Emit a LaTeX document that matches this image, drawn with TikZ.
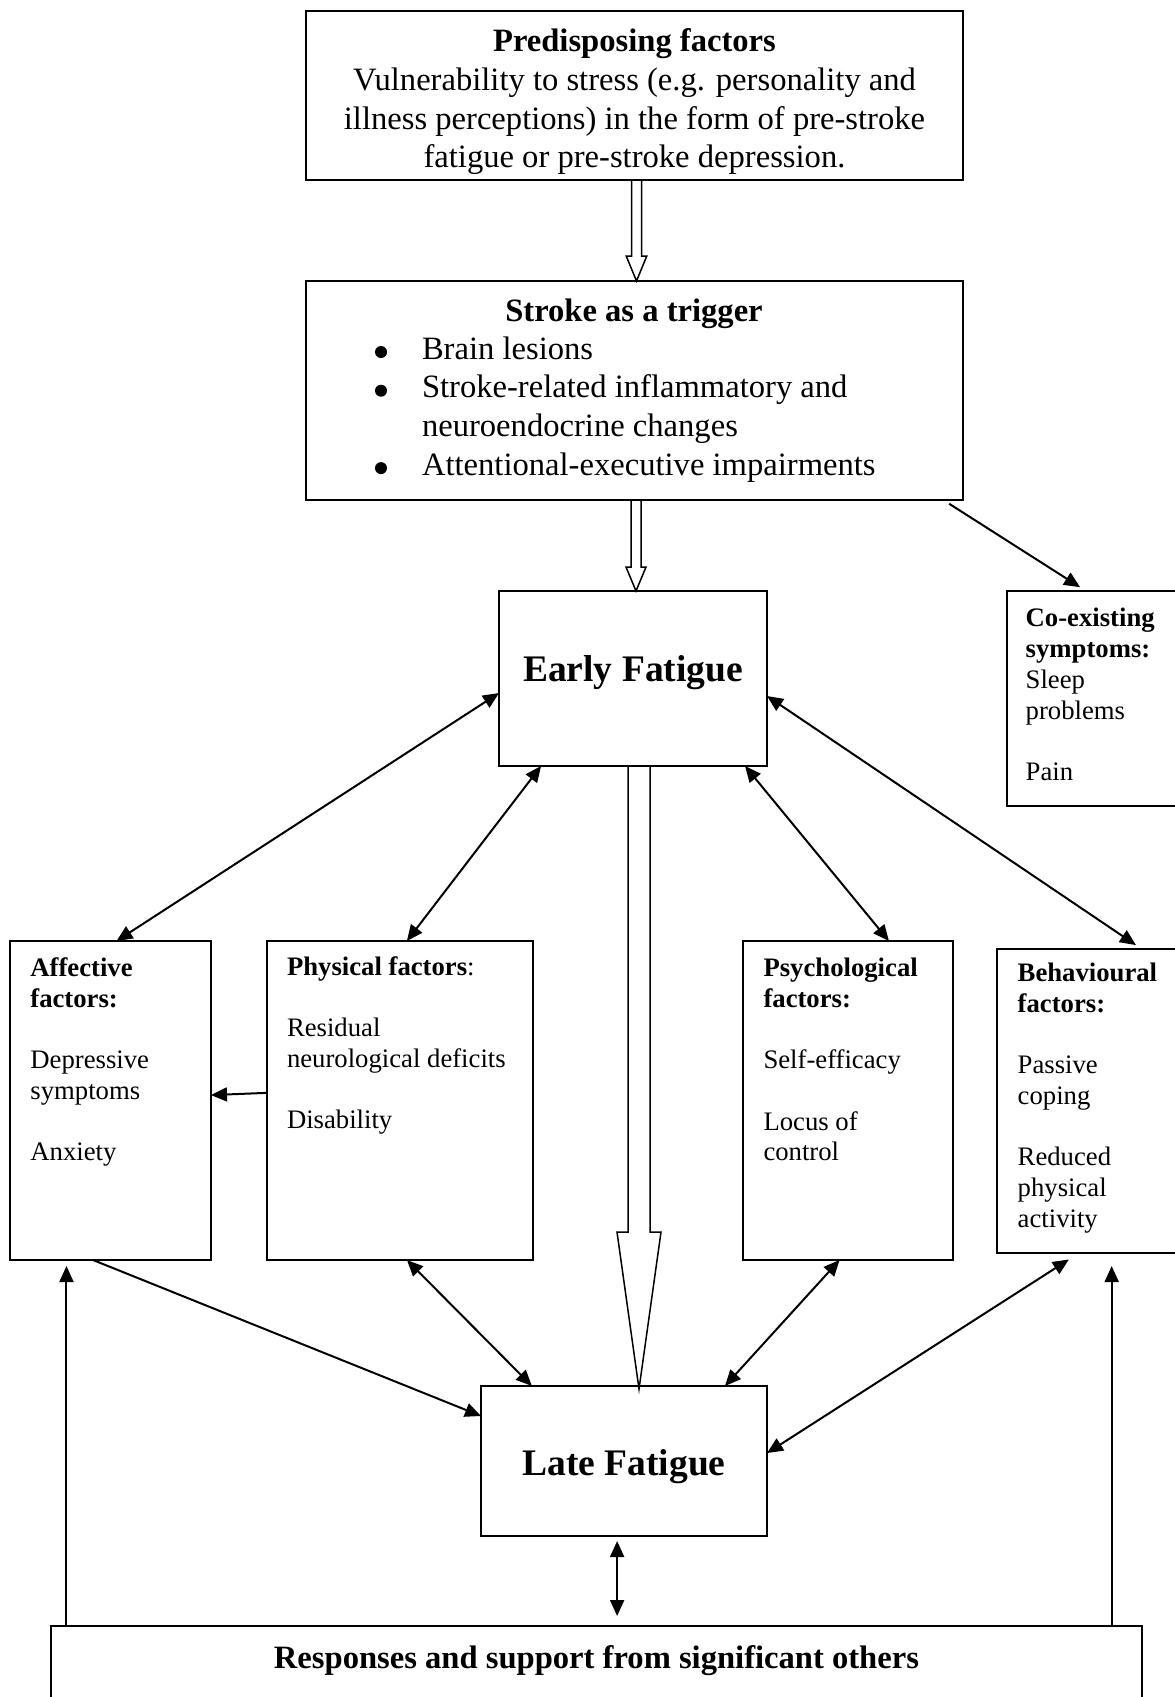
\documentclass[tikz,border=0pt]{standalone}
\usepackage{fontspec}
\setmainfont{Liberation Serif}
\usetikzlibrary{arrows.meta,calc}
\newcommand\FntA{\fontsize{32.6}{38.7}\selectfont}
\newcommand\FntB{\fontsize{26.7}{30.7}\selectfont}
\newcommand\FntC{\fontsize{37.5}{43}\selectfont}
\begin{document}
\begin{tikzpicture}[x=1pt,y=-1pt,
  >={Triangle[length=16pt,width=14pt]},
  box/.style={draw, line width=2pt, inner sep=0pt, outer sep=0pt, anchor=north west},
  txt/.style={inner sep=0pt, outer sep=0pt, anchor=north west, align=left, font=\FntB},
  con/.style={line width=2pt},
  hollow/.style={draw, line width=1.5pt, line join=miter},
  bul/.style={fill=black}]
\useasboundingbox (0,0) rectangle (1175,1697);
\clip (0,0) rectangle (1175,1697);

% boxes
\node[box, minimum width=657pt, minimum height=169pt] (pre) at (306,11) {};
\node[box, minimum width=657pt, minimum height=219pt] (stroke) at (306,281) {};
\node[box, minimum width=268pt, minimum height=175pt] (early) at (499,591) {};
\node[box, minimum width=178pt, minimum height=215pt] (coex) at (1007,591) {};
\node[box, minimum width=201pt, minimum height=319pt] (aff) at (10,941) {};
\node[box, minimum width=266pt, minimum height=319pt] (phys) at (267,941) {};
\node[box, minimum width=210pt, minimum height=319pt] (psy) at (743,941) {};
\node[box, minimum width=188pt, minimum height=304pt] (beh) at (997,949) {};
\node[box, minimum width=286pt, minimum height=150pt] (late) at (481,1386) {};
\node[box, minimum width=1091pt, minimum height=110pt] (resp) at (51,1626) {};

% texts
\node[inner sep=0pt, anchor=north, align=center, font=\FntA] (pretext) at (634.5,24.5)
  {\strut\textbf{Predisposing factors}\\
   Vulnerability to stress (e.g. personality and\\
   illness perceptions) in the form of pre-stroke\\
   fatigue or pre-stroke depression.};
\node[inner sep=0pt, anchor=base, font=\FntA] (sttitle) at (634,321.5) {\textbf{Stroke as a trigger}};
\node[txt, font=\FntA] (stlist) at (422,332.2)
  {\strut Brain lesions\\
   Stroke-related inflammatory and\\
   neuroendocrine changes\\
   Attentional-executive impairments};
% bullets
\fill[bul] (381,352) circle [radius=6pt];
\fill[bul] (381,390.7) circle [radius=6pt];
\fill[bul] (381,468.1) circle [radius=6pt];

\node[inner sep=0pt, anchor=base, font=\FntC] (eftext) at (633,681) {\textbf{Early Fatigue}};
\node[inner sep=0pt, anchor=base, font=\FntC] (lftext) at (624,1475.5) {\textbf{Late Fatigue}};
\node[txt] (coextext) at (1025.7,605.5)
  {\strut\textbf{Co-existing}\\ \textbf{symptoms:}\\ Sleep\\ problems\\ \strut\\ Pain};
\node[txt] (afftext) at (30.4,955.2)
  {\strut\textbf{Affective}\\ \textbf{factors:}\\ \strut\\ Depressive\\ symptoms\\ \strut\\ Anxiety};
\node[txt] (phystext) at (287,953.5)
  {\strut\textbf{Physical factors}:\\ \strut\\ Residual\\ neurological deficits\\ \strut\\ Disability};
\node[txt] (psytext) at (763.5,955.2)
  {\strut\textbf{Psychological}\\ \textbf{factors:}\\ \strut\\ Self-efficacy\\ \strut\\ Locus of\\ control};
\node[txt] (behtext) at (1017.7,960.2)
  {\strut\textbf{Behavioural}\\ \textbf{factors:}\\ \strut\\ Passive\\ coping\\ \strut\\ Reduced\\ physical\\ activity};
\node[inner sep=0pt, anchor=base, font=\FntA] (resptext) at (596.5,1668.5)
  {\textbf{Responses and support from significant others}};

% hollow arrows
\coordinate (ts) at ($(pre.south)+(2,0)$);
\coordinate (te) at (ts |- stroke.north);
\draw[hollow] ($(ts)+(-5,0)$) -- ($(te)+(-5,-25)$) -- ($(te)+(-10.3,-25)$) -- (te)
  -- ($(te)+(10.3,-25)$) -- ($(te)+(5,-25)$) -- ($(ts)+(5,0)$);
\coordinate (ms) at ($(stroke.south)+(1.5,0)$);
\coordinate (me) at (ms |- early.north);
\draw[hollow] ($(ms)+(-5,0)$) -- ($(me)+(-5,-24)$) -- ($(me)+(-10,-24)$) -- (me)
  -- ($(me)+(10,-24)$) -- ($(me)+(5,-24)$) -- ($(ms)+(5,0)$);
\coordinate (bs) at ($(early.south)+(6,0)$);
\coordinate (be) at ($(bs |- late.north)+(0,3)$);
\draw[hollow] ($(bs)+(-11,0)$) -- ($(be)+(-11,-157)$) -- ($(be)+(-22,-157)$) -- (be)
  -- ($(be)+(22,-157)$) -- ($(be)+(11,-157)$) -- ($(bs)+(11,0)$);

% connectors
\draw[con,<->] ($(early.north west)!0.583!(early.south west)$) -- ($(aff.north west)!0.53!(aff.north east)$);
\draw[con,<->] ($(early.south west)!0.157!(early.south east)$) -- ($(phys.north west)!0.526!(phys.north east)$);
\draw[con,<->] ($(early.south west)!0.918!(early.south east)$) -- ($(psy.north west)!0.695!(psy.north east)$);
\draw[con,<->,shorten >=7pt] ($(early.north east)!0.6!(early.south east)$) -- ($(beh.north west)!0.77!(beh.north east)$);
\draw[con,->,shorten <=7pt,shorten >=7pt] ($(stroke.south west)!0.97!(stroke.south east)$) -- ($(coex.north west)!0.444!(coex.north east)$);
\draw[con,->] ($(phys.north west)!0.476!(phys.south west)$) -- ($(aff.north east)!0.483!(aff.south east)$);
\draw[con,->] ($(aff.south west)!0.413!(aff.south east)$) -- ($(late.north west)!0.2!(late.south west)$);
\draw[con,<->] ($(phys.south west)!0.526!(phys.south east)$) -- ($(late.north west)!0.178!(late.north east)$);
\draw[con,<->] ($(psy.south west)!0.46!(psy.south east)$) -- ($(late.north west)!0.853!(late.north east)$);
\draw[con,<->,shorten <=12pt] ($(beh.south west)!0.436!(beh.south east)$) -- ($(late.north east)!0.447!(late.south east)$);
\coordinate (lateb) at ($(late.south west)!0.476!(late.south east)$);
\draw[con,<->,shorten <=5pt,shorten >=10pt] (lateb) -- (lateb |- resp.north);
\coordinate (affb) at ($(aff.south west)!0.281!(aff.south east)$);
\draw[con,->,shorten >=6pt] (affb |- resp.north) -- (affb);
\coordinate (behb) at ($(beh.south west)!0.61!(beh.south east)$);
\draw[con,->,shorten >=13pt] (behb |- resp.north) -- (behb);
\end{tikzpicture}
\end{document}
